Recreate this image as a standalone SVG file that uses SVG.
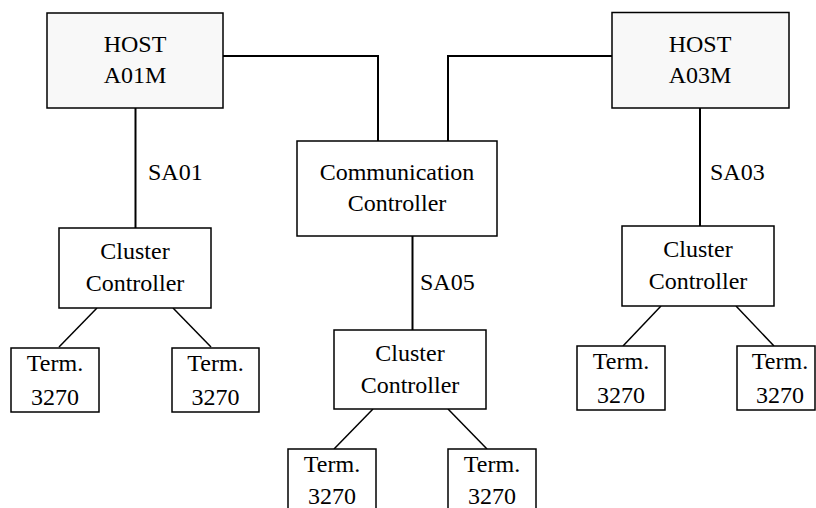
<svg xmlns="http://www.w3.org/2000/svg" width="816" height="508" viewBox="0 0 816 508">
  <style>
    .box { fill: #ffffff; stroke: #000000; stroke-width: 1.5; }
    .host { fill: #f8f8f8; }
    .link { fill: none; stroke: #000000; stroke-width: 2; }
    .leaf { fill: none; stroke: #000000; stroke-width: 1.5; }
    text { font-family: "Liberation Serif", "Times New Roman", serif; font-size: 24px; fill: #000000; }
    .c { text-anchor: middle; }
  </style>
  <rect width="816" height="508" fill="#ffffff"/>

  <!-- connectors -->
  <g id="connectors">
    <polyline class="link" points="223,56 378,56 378,141"/>
    <polyline class="link" points="612,56 448,56 448,141"/>
    <line class="link" x1="135.5" y1="108" x2="135.5" y2="228"/>
    <line class="link" x1="700" y1="108" x2="700" y2="226"/>
    <line class="link" x1="412.5" y1="236" x2="412.5" y2="330"/>
    <line class="leaf" x1="97" y1="308" x2="59" y2="347"/>
    <line class="leaf" x1="173" y1="308" x2="211" y2="347"/>
    <line class="leaf" x1="373" y1="409" x2="334" y2="449"/>
    <line class="leaf" x1="448" y1="409" x2="487" y2="449"/>
    <line class="leaf" x1="661" y1="306" x2="623" y2="346"/>
    <line class="leaf" x1="736" y1="306" x2="774" y2="346"/>
    <text x="148" y="180">SA01</text>
    <text x="420" y="290">SA05</text>
    <text x="710" y="180">SA03</text>
  </g>

  <!-- hosts -->
  <g id="host-a01m">
    <rect class="box host" x="47" y="13" width="176" height="95"/>
    <text class="c" x="135" y="52">HOST</text>
    <text class="c" x="135" y="83">A01M</text>
  </g>
  <g id="host-a03m">
    <rect class="box host" x="612" y="12.5" width="177" height="95.5"/>
    <text class="c" x="700" y="52">HOST</text>
    <text class="c" x="700" y="83">A03M</text>
  </g>

  <!-- communication controller -->
  <g id="comm-controller">
    <rect class="box" x="297" y="141" width="200" height="95"/>
    <text class="c" x="397" y="180">Communication</text>
    <text class="c" x="397" y="211">Controller</text>
  </g>

  <!-- cluster controllers -->
  <g id="cluster-sa01">
    <rect class="box" x="59" y="228" width="152" height="80"/>
    <text class="c" x="135" y="259">Cluster</text>
    <text class="c" x="135" y="291">Controller</text>
  </g>
  <g id="cluster-sa05">
    <rect class="box" x="334" y="330" width="152" height="79"/>
    <text class="c" x="410" y="361">Cluster</text>
    <text class="c" x="410" y="393">Controller</text>
  </g>
  <g id="cluster-sa03">
    <rect class="box" x="622" y="226" width="152" height="80"/>
    <text class="c" x="698" y="257">Cluster</text>
    <text class="c" x="698" y="289">Controller</text>
  </g>

  <!-- terminals -->
  <g id="term-1">
    <rect class="box" x="11" y="348" width="88" height="64"/>
    <text class="c" x="55" y="371">Term.</text>
    <text class="c" x="55" y="405">3270</text>
  </g>
  <g id="term-2">
    <rect class="box" x="172" y="348" width="87" height="64"/>
    <text class="c" x="215.5" y="371">Term.</text>
    <text class="c" x="215.5" y="405">3270</text>
  </g>
  <g id="term-3">
    <rect class="box" x="288" y="449" width="88" height="70"/>
    <text class="c" x="332" y="472">Term.</text>
    <text class="c" x="332" y="504">3270</text>
  </g>
  <g id="term-4">
    <rect class="box" x="448" y="449" width="88" height="70"/>
    <text class="c" x="492" y="472">Term.</text>
    <text class="c" x="492" y="504">3270</text>
  </g>
  <g id="term-5">
    <rect class="box" x="577" y="346" width="88" height="64"/>
    <text class="c" x="621" y="369">Term.</text>
    <text class="c" x="621" y="403">3270</text>
  </g>
  <g id="term-6">
    <rect class="box" x="737" y="346" width="78" height="64"/>
    <text class="c" x="780" y="369">Term.</text>
    <text class="c" x="780" y="403">3270</text>
  </g>
</svg>
